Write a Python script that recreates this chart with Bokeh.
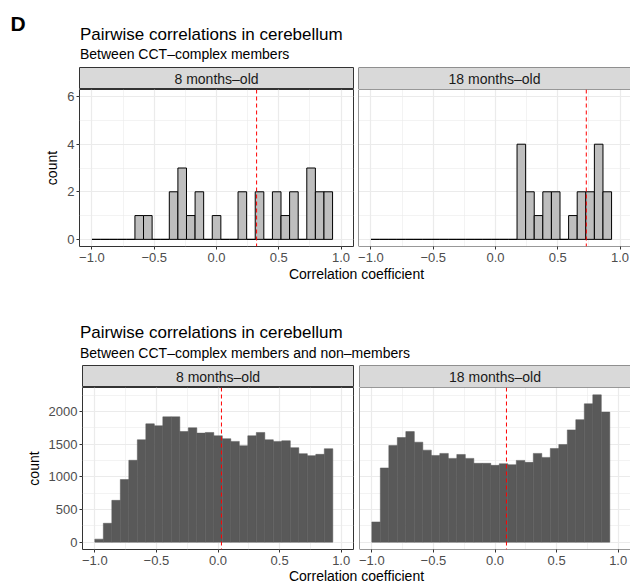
from bokeh.plotting import figure
from bokeh.layouts import column, row
from bokeh.models import Range1d, FixedTicker, Span, Label, CustomJSTickFormatter
from bokeh.embed import file_html
from bokeh.resources import INLINE

FONT = "Liberation Sans"

# Histogram bins shared by all four panels
bin_start = -1.0
bin_width = 0.069
n_bins = 28

# Counts per bin: pairs among CCT-complex members
cct_8mo = [0, 0, 0, 0, 0, 1, 1, 0, 0, 2, 3, 1, 2, 0, 1, 0, 0, 2, 0, 2, 0, 2, 1, 2, 0, 3, 2, 2]
cct_18mo = [0, 0, 0, 0, 0, 0, 0, 0, 0, 0, 0, 0, 0, 0, 0, 0, 0, 4, 2, 1, 2, 2, 0, 1, 2, 2, 4, 2]

# Counts per bin: CCT-complex members vs non-members
non_8mo = [46, 289, 640, 959, 1254, 1568, 1812, 1782, 1919, 1919, 1695, 1751, 1670, 1680,
           1629, 1584, 1543, 1477, 1629, 1680, 1568, 1543, 1553, 1447, 1355, 1325, 1345, 1431]
non_18mo = [309, 1136, 1480, 1602, 1693, 1531, 1409, 1328, 1359, 1283, 1343, 1283, 1207, 1207,
            1176, 1201, 1186, 1252, 1222, 1359, 1298, 1435, 1496, 1719, 1876, 2119, 2256, 1992]

# Median correlation per panel (dashed red line)
median_cct = [0.322, 0.729]
median_non = [0.028, 0.093]

ages = ["8 months\u2013old", "18 months\u2013old"]
x_ticks = [-1.0, -0.5, 0.0, 0.5, 1.0]
x_minor = [-0.75, -0.25, 0.25, 0.75]
y_ticks_cct = [0, 2, 4, 6]
y_minor_cct = [1, 3, 5]
y_ticks_non = [0, 500, 1000, 1500, 2000]
y_minor_non = [250, 750, 1250, 1750, 2250]

lefts = [bin_start + i * bin_width for i in range(n_bins)]
rights = [l + bin_width for l in lefts]

BORDER = "#333333"
GRID = "#EBEBEB"


def text_canvas(w, h):
    p = figure(width=w, height=h, x_range=Range1d(0, w), y_range=Range1d(h, 0),
               toolbar_location=None, output_backend="svg", min_border=0,
               x_axis_location=None, y_axis_location=None)
    p.grid.visible = False
    p.outline_line_color = None
    return p


def add_text(p, x, y, text, size, color="black", align="left", style="normal"):
    p.add_layout(Label(x=x, y=y, text=text, text_font=FONT, text_font_size=size,
                       text_color=color, text_align=align, text_baseline="alphabetic",
                       text_font_style=style))


def strip(label, frame_w, left, right, full_outline):
    p = figure(width=left + frame_w + right, height=22, x_range=Range1d(0, 1), y_range=Range1d(0, 1),
               toolbar_location=None, output_backend="svg", min_border_left=left,
               min_border_right=right, min_border_top=0, min_border_bottom=0,
               x_axis_location=None, y_axis_location=None)
    p.grid.visible = False
    p.background_fill_color = "#D9D9D9"
    if full_outline:
        p.outline_line_color = BORDER
    else:
        p.outline_line_color = None
        p.add_layout(Span(location=0, dimension="height", line_color=BORDER, line_width=1))
        p.add_layout(Span(location=1, dimension="width", line_color=BORDER, line_width=1))
    p.add_layout(Label(x=0.5, y=0.5, text=label, text_font=FONT, text_font_size="14px",
                       text_color="#1A1A1A", text_align="center", text_baseline="middle"))
    return p


def panel(frame_w, frame_h, x_end, y0, y1, yt, ym, left, right, bottom,
          show_y, outlined, median):
    p = figure(width=left + frame_w + right, height=frame_h + bottom,
               x_range=Range1d(-1.1, x_end), y_range=Range1d(y0, y1),
               toolbar_location=None, output_backend="svg",
               min_border_left=left, min_border_right=right, min_border_top=0,
               min_border_bottom=bottom, y_axis_location="left" if show_y else None)
    p.xaxis.ticker = FixedTicker(ticks=x_ticks, minor_ticks=x_minor)
    p.xaxis.formatter = CustomJSTickFormatter(
        code="return (tick < 0 ? '\\u2212' : '') + Math.abs(tick).toFixed(1);")
    p.xgrid.ticker = FixedTicker(ticks=x_ticks, minor_ticks=x_minor)
    p.ygrid.ticker = FixedTicker(ticks=yt, minor_ticks=ym)
    axes = [p.xaxis[0]]
    if show_y:
        p.yaxis.ticker = FixedTicker(ticks=yt, minor_ticks=ym)
        p.yaxis.axis_label = "count"
        axes.append(p.yaxis[0])
    for ax in axes:
        ax.axis_line_color = None
        ax.major_tick_line_color = BORDER
        ax.major_tick_out = 3
        ax.major_tick_in = 0
        ax.minor_tick_line_color = None
        ax.major_label_text_font = FONT
        ax.major_label_text_font_size = "13px"
        ax.major_label_text_line_height = 1.0
        ax.major_label_text_color = "#4D4D4D"
        ax.major_label_standoff = 1
        ax.axis_label_text_font = FONT
        ax.axis_label_text_font_size = "14px"
        ax.axis_label_text_font_style = "normal"
        ax.axis_label_text_color = "black"
        ax.axis_label_standoff = 4
    p.xaxis.major_label_standoff = 2
    for g in (p.xgrid[0], p.ygrid[0]):
        g.grid_line_color = GRID
        g.grid_line_width = 1.2
        g.minor_grid_line_color = GRID
        g.minor_grid_line_width = 0.6
    if outlined:
        p.outline_line_color = BORDER
        p.outline_line_width = 1
    else:
        p.outline_line_color = None
        p.add_layout(Span(location=-1.1, dimension="height", line_color=BORDER, line_width=1))
        p.add_layout(Span(location=y0, dimension="width", line_color=BORDER, line_width=1))
        p.add_layout(Span(location=y1, dimension="width", line_color=BORDER, line_width=1))
    p.add_layout(Span(location=median, dimension="height", line_color="#FF0000",
                      line_width=1, line_dash="4 3"))
    return p


def draw_outlined(p, counts):
    p.quad(left=lefts, right=rights, bottom=0, top=counts,
           fill_color="#BEBEBE", line_color="black", line_width=1)


def draw_solid(p, counts):
    p.quad(left=lefts, right=rights, bottom=0, top=counts,
           fill_color="#595959", line_color="#595959", line_width=0.5)


# --- top block: correlations within the CCT complex ---
head1 = text_canvas(630, 67)
add_text(head1, 10, 22.7, "D", "21px", style="bold")
add_text(head1, 79.5, 34.2, "Pairwise correlations in cerebellum", "17px")
add_text(head1, 79.5, 53.8, "Between CCT\u2013complex members", "14px")

s1 = strip(ages[0], 274, 79, 1, True)
s2 = strip(ages[1], 272, 4, 0, False)

p1 = panel(274, 157, 1.1, -0.3, 6.3, y_ticks_cct, y_minor_cct, 79, 1, 21,
           True, True, median_cct[0])
draw_outlined(p1, cct_8mo)
p2 = panel(272, 157, -1.1 + 272 * 2.2 / 274, -0.3, 6.3, y_ticks_cct, y_minor_cct,
           4, 0, 21, False, False, median_cct[1])
draw_outlined(p2, cct_18mo)

# --- bottom block: members vs non-members ---
ymax_non = max(max(non_8mo), max(non_18mo))
yb0, yb1 = -0.05 * ymax_non, 1.05 * ymax_non

head2 = text_canvas(630, 98)
add_text(head2, 356, 6.5, "Correlation coefficient", "14px", align="center")
add_text(head2, 79.5, 65.4, "Pairwise correlations in cerebellum", "17px")
add_text(head2, 79.5, 85, "Between CCT\u2013complex members and non\u2013members", "14px")

s3 = strip(ages[0], 271, 82, 1, True)
s4 = strip(ages[1], 271, 5, 0, False)

p3 = panel(271, 162, 1.1, yb0, yb1, y_ticks_non, y_minor_non, 82, 1, 19,
           True, True, median_non[0])
draw_solid(p3, non_8mo)
p4 = panel(271, 162, 1.1, yb0, yb1, y_ticks_non, y_minor_non, 5, 0, 19,
           False, False, median_non[1])
draw_solid(p4, non_18mo)

foot = text_canvas(630, 16)
add_text(foot, 356, 7, "Correlation coefficient", "14px", align="center")

layout = column(head1, row(s1, s2), row(p1, p2), head2, row(s3, s4), row(p3, p4), foot)

with open("out.html", "w", encoding="utf-8") as f:
    f.write(file_html(layout, INLINE))
